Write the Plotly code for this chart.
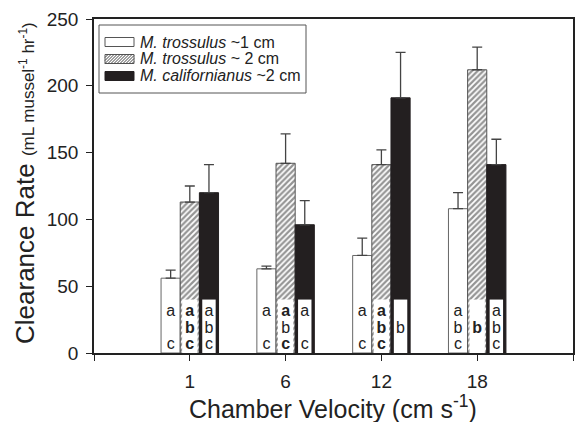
import plotly.graph_objects as go

velocities = ["1", "6", "12", "18"]
series_names = ["<i>M. trossulus</i> ~1 cm",
                "<i>M. trossulus</i> ~ 2 cm",
                "<i>M. californianus</i> ~2 cm"]
small_vals = [56, 63, 73, 108]
small_err = [6, 2, 13, 12]
mid_vals = [113, 142, 141, 212]
mid_err = [12, 22, 11, 17]
cal_vals = [120, 96, 191, 141]
cal_err = [21, 18, 34, 19]

# significance letters (rows a, b, c) per bar
small_letters = [["a", "", "c"], ["a", "", "c"], ["a", "", "c"], ["a", "b", "c"]]
mid_letters = [["<b>a</b>", "<b>b</b>", "<b>c</b>"], ["<b>a</b>", "b", "<b>c</b>"],
               ["<b>a</b>", "<b>b</b>", "<b>c</b>"], ["", "<b>b</b>", ""]]
cal_letters = [["a", "b", "c"], ["a", "", "c"], ["", "b", ""], ["a", "b", "c"]]
letter_rows = [31, 18, 6]
letter_box_height = 40

yticks = [0, 50, 100, 150, 200, 250]
x_title = "Chamber Velocity (cm s<sup>-1</sup>)"
y_title = ("Clearance Rate <span style='font-size:17px'>(mL mussel<sup>-1</sup> "
           "hr<sup>-1</sup>)</span>")

FONT = "Liberation Sans, Arial, sans-serif"
W, H = 577, 422
ML, MR, MT, MB = 94, 4, 19, 69
PW, PH = W - ML - MR, H - MT - MB

def px(x):
    return (x - ML) / PW

def py(y):
    return (H - MB - y) / PH

pos = list(range(1, len(velocities) + 1))
bw = 0.2
offsets = [-bw, 0.0, bw]

fig = go.Figure()

styles = [
    dict(color="white", line=dict(color="#666", width=1)),
    dict(color="white", line=dict(color="#555", width=1),
         pattern=dict(shape="/", fgcolor="#2a2a2a", bgcolor="white", size=4, solidity=0.55)),
    dict(color="#231f20", line=dict(color="#231f20", width=1)),
]
vals = [small_vals, mid_vals, cal_vals]
errs = [small_err, mid_err, cal_err]
for i in range(3):
    fig.add_trace(go.Bar(
        x=[p + offsets[i] for p in pos], y=vals[i], width=bw,
        name=series_names[i], marker=styles[i], showlegend=False,
        error_y=dict(type="data", array=errs[i], arrayminus=[0] * len(pos),
                     symmetric=False, color="#444", thickness=1.3, width=5),
    ))

# white boxes behind letters on hatched and black bars
for i, w in [(1, 0.16), (2, 0.14)]:
    fig.add_trace(go.Bar(
        x=[p + offsets[i] for p in pos], y=[letter_box_height] * len(pos), width=w,
        marker=dict(color="white", line=dict(width=0)),
        showlegend=False, hoverinfo="skip",
    ))

letters_all = [small_letters, mid_letters, cal_letters]
tx, ty, tt = [], [], []
for i in range(3):
    for g, p in enumerate(pos):
        for r in range(3):
            if letters_all[i][g][r]:
                tx.append(p + offsets[i])
                ty.append(letter_rows[r])
                tt.append(letters_all[i][g][r])
fig.add_trace(go.Scatter(
    x=tx, y=ty, text=tt, mode="text", textposition="middle center",
    textfont=dict(family=FONT, size=16, color="#222"),
    showlegend=False, hoverinfo="skip",
))

# custom legend (box, wide swatches, labels)
shapes = []
shapes.append(dict(type="rect", xref="paper", yref="paper",
                   x0=px(99), x1=px(306), y0=py(93), y1=py(25),
                   line=dict(color="#555", width=1), fillcolor="white", layer="above"))
row_y = [42, 59, 76]
sx0, sx1, sh = 105, 134, 9
for i, cy in enumerate(row_y):
    yt, yb = cy - sh / 2, cy + sh / 2
    fill = "#231f20" if i == 2 else "white"
    lc = "#231f20" if i == 2 else "#555"
    shapes.append(dict(type="rect", xref="paper", yref="paper",
                       x0=px(sx0), x1=px(sx1), y0=py(yb), y1=py(yt),
                       line=dict(color=lc, width=1), fillcolor=fill, layer="above"))
    if i == 1:
        b = sx0 - sh
        while b < sx1:
            t0 = max(0, sx0 - b)
            t1 = min(sh, sx1 - b)
            if t1 > t0:
                shapes.append(dict(type="line", xref="paper", yref="paper",
                                   x0=px(b + t0), y0=py(yb - t0),
                                   x1=px(b + t1), y1=py(yb - t1),
                                   line=dict(color="#444", width=1), layer="above"))
            b += 3
    fig.add_annotation(x=px(138), y=py(cy), xref="paper", yref="paper",
                       text=series_names[i], showarrow=False,
                       xanchor="left", yanchor="middle",
                       font=dict(family=FONT, size=16, color="#222"))

# axis titles as annotations for exact placement
fig.add_annotation(x=px(333), y=py(407), xref="paper", yref="paper",
                   text=x_title, showarrow=False, xanchor="center", yanchor="middle",
                   font=dict(family=FONT, size=25, color="#222"))
fig.add_annotation(x=px(25), y=py(183), xref="paper", yref="paper",
                   text=y_title, showarrow=False, textangle=-90,
                   xanchor="center", yanchor="middle",
                   font=dict(family=FONT, size=26, color="#222"))

fig.update_layout(
    width=W, height=H,
    margin=dict(l=ML, r=MR, t=MT, b=MB, autoexpand=False),
    paper_bgcolor="white", plot_bgcolor="white",
    barmode="overlay",
    font=dict(family=FONT, color="#222"),
    showlegend=False,
    shapes=shapes,
)
fig.update_xaxes(
    range=[0, 5], tickmode="array", tickvals=pos, ticktext=velocities,
    ticks="outside", ticklen=6, tickcolor="#222", tickwidth=1,
    minor=dict(ticks="outside", tick0=0, dtick=5, ticklen=6, tickcolor="#222", tickwidth=1),
    ticklabelstandoff=4, automargin=False,
    showline=True, linecolor="#222", linewidth=1.5, mirror=True,
    showgrid=False, zeroline=False,
    tickfont=dict(size=19, family=FONT, color="#222"),
)
fig.update_yaxes(
    range=[0, 250], tickvals=yticks,
    ticks="outside", ticklen=6, tickcolor="#222", tickwidth=1,
    ticklabelstandoff=4, automargin=False,
    showline=True, linecolor="#222", linewidth=1.5, mirror=True,
    showgrid=False, zeroline=False,
    tickfont=dict(size=19, family=FONT, color="#222"),
)

fig.write_html("out.html", config={"displayModeBar": False},
               post_script="document.body.style.margin='0';document.body.style.overflow='hidden';")
